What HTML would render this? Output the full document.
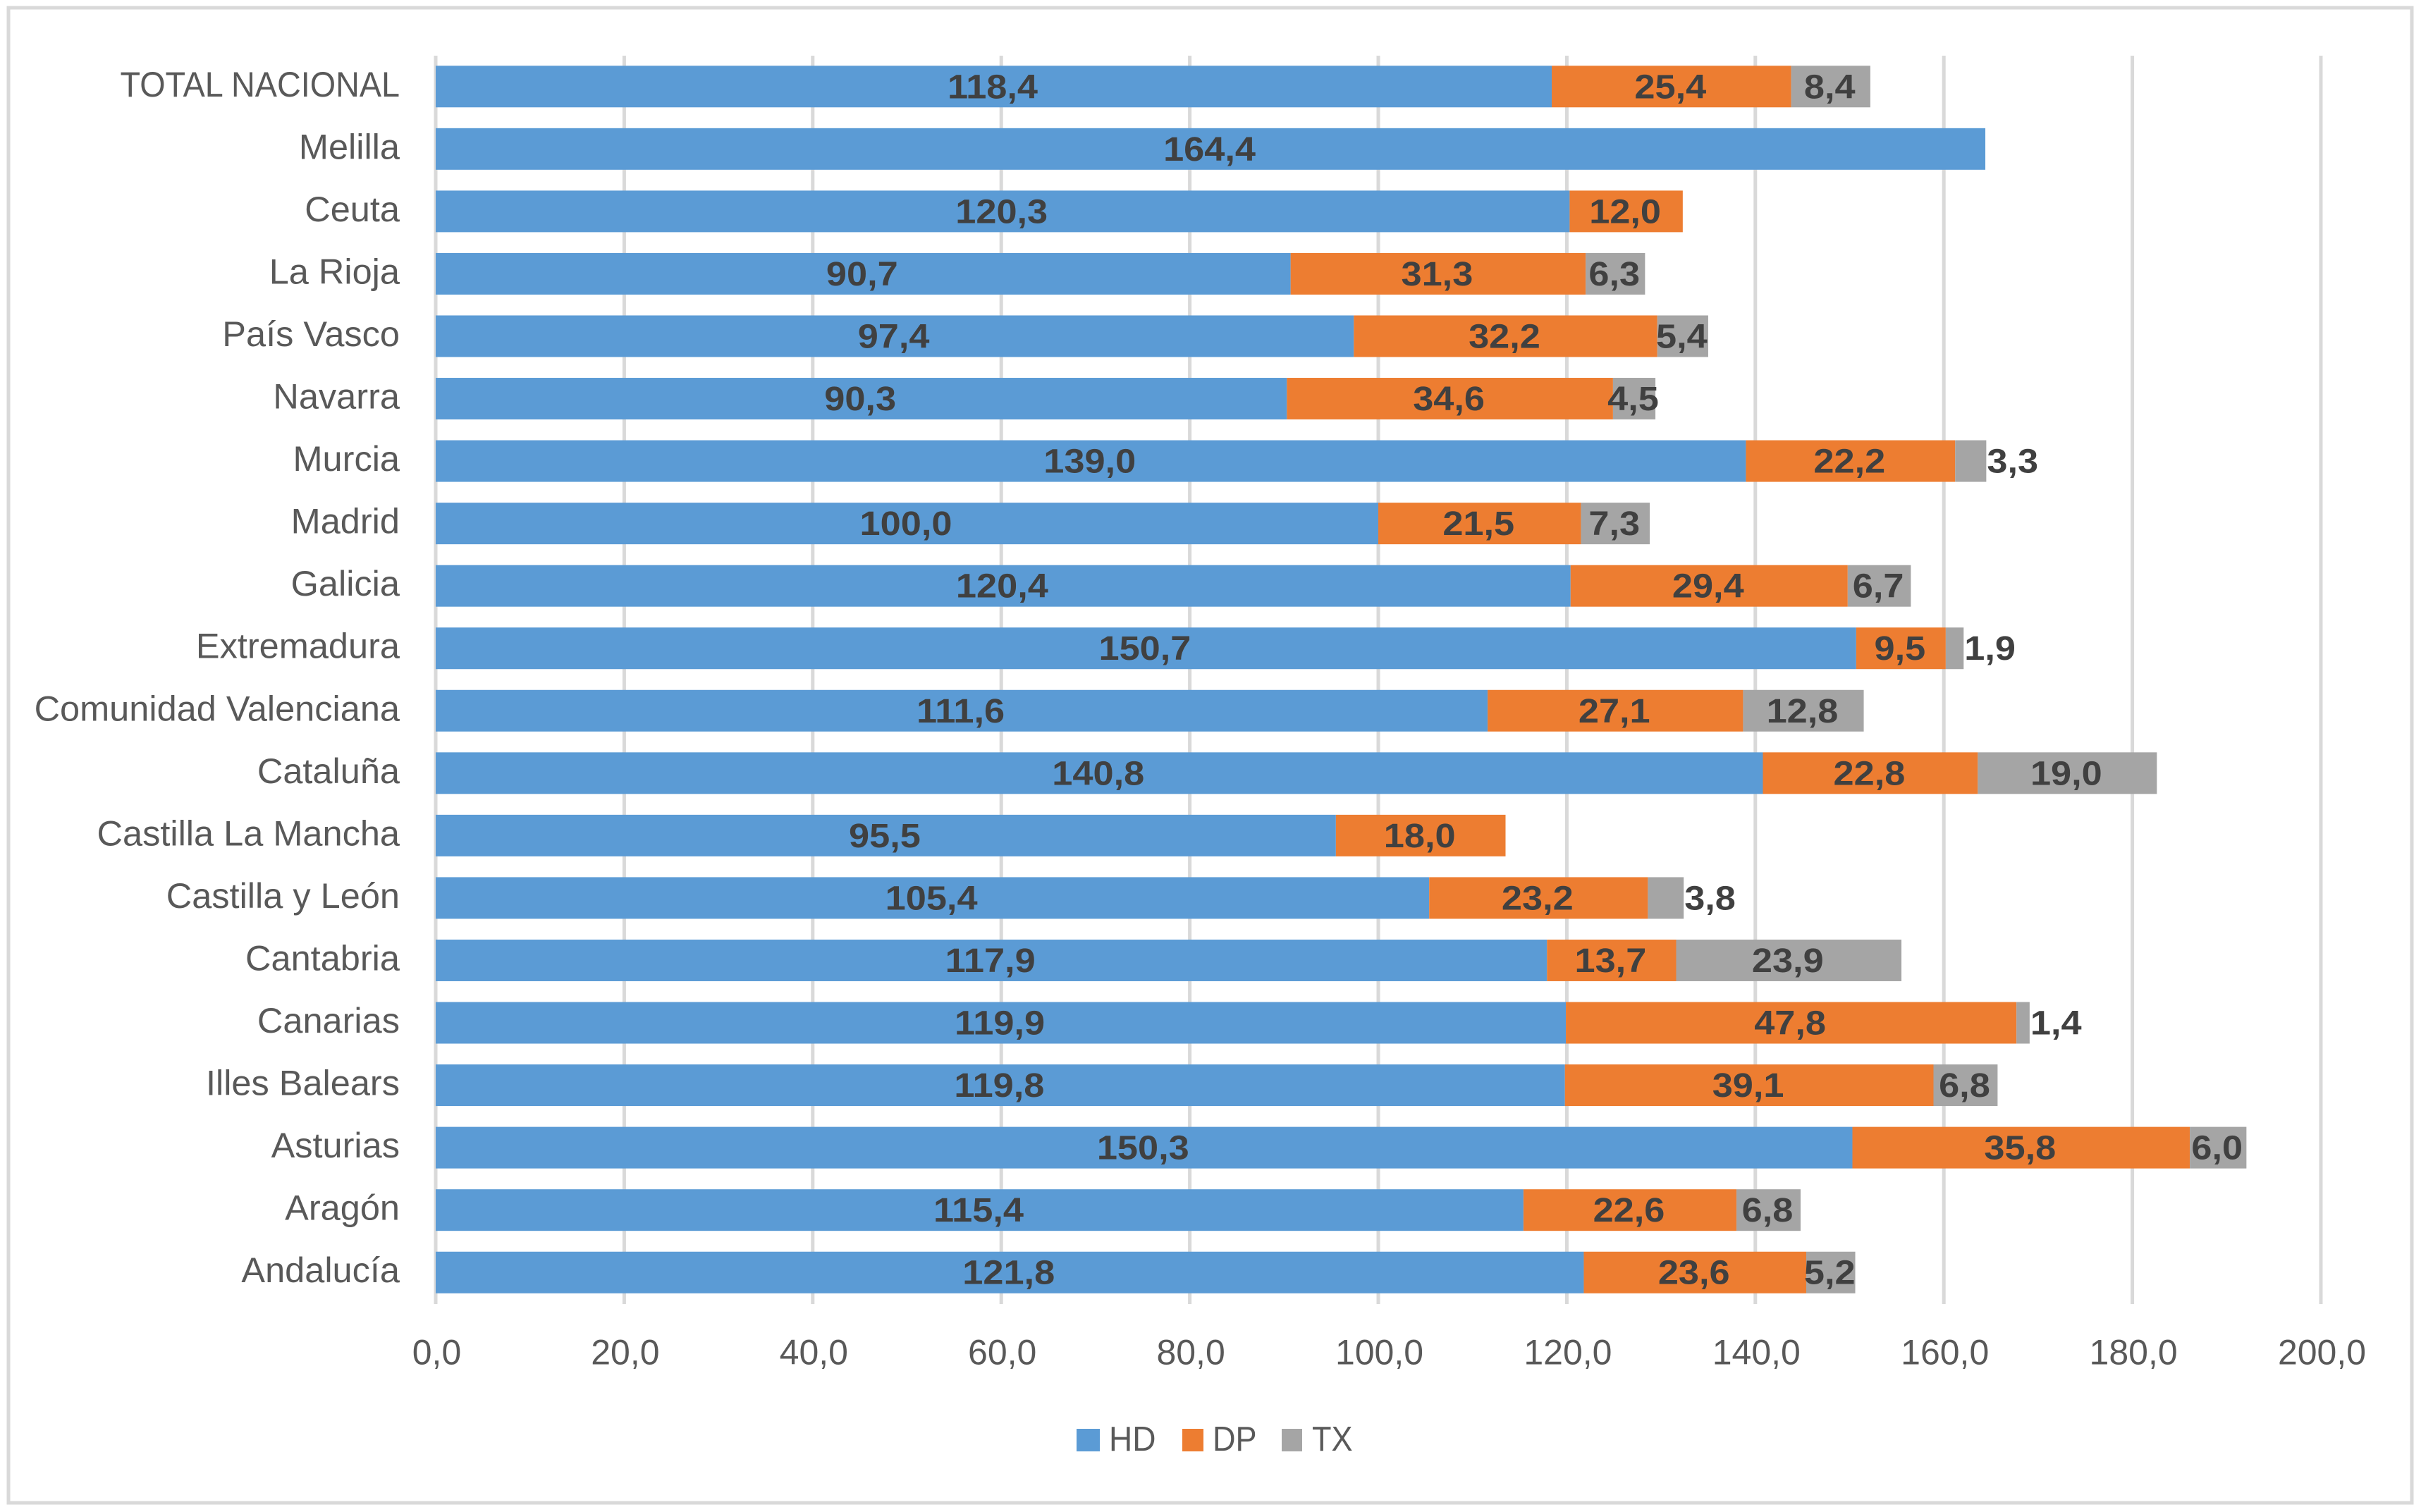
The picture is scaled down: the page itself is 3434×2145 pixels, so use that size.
<!DOCTYPE html>
<html lang="es">
<head>
<meta charset="utf-8">
<title>HD DP TX por comunidad</title>
<style>
html,body{margin:0;padding:0;background:#fff;}
svg{display:block;}
text{font-family:"Liberation Sans",sans-serif;}
</style>
</head>
<body>
<svg id="chart" xmlns="http://www.w3.org/2000/svg" width="3434" height="2145" viewBox="0 0 3434 2145">
  <rect x="0" y="0" width="3434" height="2145" fill="#ffffff"/>
  <rect x="12" y="11" width="3409" height="2121" fill="none" stroke="#d9d9d9" stroke-width="5"/>
  <g id="grid"></g>
  <g id="bars"></g>
  <g id="cats"></g>
  <g id="ticks"></g>
  <g id="values"></g>
  <g>
    <g>
      <rect x="1527" y="2027" width="33" height="32" fill="#5b9bd5"/>
      <text transform="translate(1573,2058) scale(.94,1)" font-size="49" fill="#595959">HD</text>
    </g>
    <g>
      <rect x="1677" y="2027" width="30" height="32" fill="#ed7d31"/>
      <text transform="translate(1720,2058) scale(.92,1)" font-size="49" fill="#595959">DP</text>
    </g>
    <g>
      <rect x="1818" y="2027" width="29" height="32" fill="#a5a5a5"/>
      <text transform="translate(1861,2058) scale(.92,1)" font-size="49" fill="#595959">TX</text>
    </g>
  </g>
</svg>
<script>
const categories = ["TOTAL NACIONAL","Melilla","Ceuta","La Rioja","País Vasco","Navarra","Murcia","Madrid","Galicia","Extremadura","Comunidad Valenciana","Cataluña","Castilla La Mancha","Castilla y León","Cantabria","Canarias","Illes Balears","Asturias","Aragón","Andalucía"];
const hd = [118.4,164.4,120.3,90.7,97.4,90.3,139.0,100.0,120.4,150.7,111.6,140.8,95.5,105.4,117.9,119.9,119.8,150.3,115.4,121.8];
const dp = [25.4,0,12.0,31.3,32.2,34.6,22.2,21.5,29.4,9.5,27.1,22.8,18.0,23.2,13.7,47.8,39.1,35.8,22.6,23.6];
const tx = [8.4,0,0,6.3,5.4,4.5,3.3,7.3,6.7,1.9,12.8,19.0,0,3.8,23.9,1.4,6.8,6.0,6.8,5.2];
const tickValues = [0,20,40,60,80,100,120,140,160,180,200];

const NS = "http://www.w3.org/2000/svg";
const plotTop = 79, plotBottom = 1850, x0 = 618, pxPerUnit = 13.37;
const barH = 59;
const band = (plotBottom - plotTop) / categories.length;
function xScale(v){ return x0 + v * pxPerUnit; }
function yCenter(i){ return plotTop + band * (i + 0.5); }
function fmt(v){ return v.toFixed(1).replace(".", ","); }
function make(tag, attrs, parent){
  const el = document.createElementNS(NS, tag);
  for (const k in attrs) el.setAttribute(k, attrs[k]);
  parent.appendChild(el);
  return el;
}
const gGrid = document.getElementById("grid");
const gBars = document.getElementById("bars");
const gCats = document.getElementById("cats");
const gTicks = document.getElementById("ticks");
const gValues = document.getElementById("values");

tickValues.forEach(function(t){
  const line = make("rect", {x: xScale(t) - 2.5, y: plotTop, width: 5, height: plotBottom - plotTop, fill: "#d9d9d9"}, gGrid);
  
  
  const label = make("text", {transform: "translate(" + (xScale(t) + 1.5) + ",1935.5) scale(1,1)", "text-anchor": "middle", "font-size": 50, fill: "#595959"}, gTicks);
  
  
  label.textContent = fmt(t);
});

const seriesList = [
  {key: "hd", values: hd, color: "#5b9bd5"},
  {key: "dp", values: dp, color: "#ed7d31"},
  {key: "tx", values: tx, color: "#a5a5a5"}
];

categories.forEach(function(name, i){
  const cy = yCenter(i);
  const squeeze = name === name.toUpperCase() ? 0.935 : 1.01;
  const cat = make("text", {transform: "translate(567," + (cy + 13.5) + ") scale(" + squeeze + ",1)", "text-anchor": "end", "font-size": 50, fill: "#595959"}, gCats);
  
  
  cat.textContent = name;

  let acc = 0;
  seriesList.forEach(function(s){
    const v = s.values[i];
    if (!v) return;
    const xa = xScale(acc), xb = xScale(acc + v);
    const bar = make("rect", {x: xa, y: cy - barH / 2 - 0.5, width: xb - xa, height: barH, fill: s.color}, gBars);
    
    

    const outside = v < 4;
    const lx = outside ? xb + 1 : (xa + xb) / 2 - 1.5;
    const lab = make("text", {transform: "translate(" + lx + "," + (cy + 16) + ") scale(1.09,1)", "text-anchor": outside ? "start" : "middle", "font-size": 48, "font-weight": "bold", fill: "#404040"}, gValues);
    
    
    lab.textContent = fmt(v);
    acc += v;
  });
});
</script>
</body>
</html>
